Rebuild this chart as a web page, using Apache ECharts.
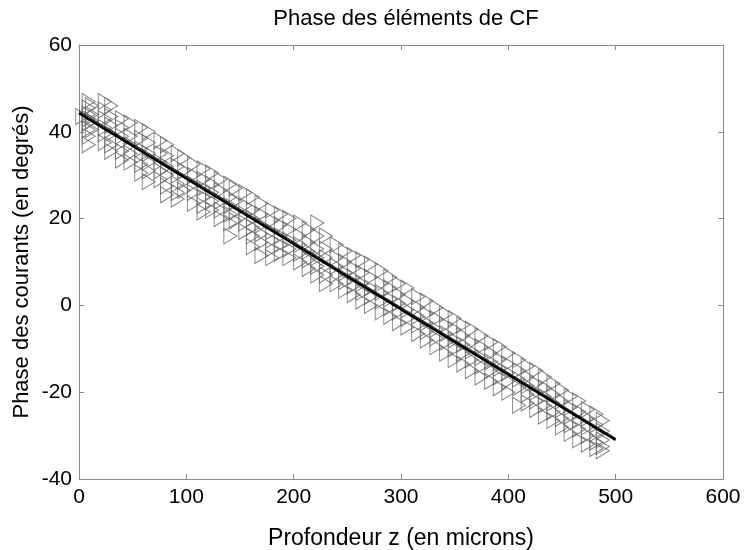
<!DOCTYPE html>
<html>
<head>
<meta charset="utf-8">
<script src="https://cdn.jsdelivr.net/npm/echarts@6/dist/echarts.min.js"></script>
<style>html,body{margin:0;padding:0;background:#fff}#c{width:746px;height:550px}</style>
</head>
<body>
<div id="c"></div>
<script>
var title = "Phase des éléments de CF";
var xName = "Profondeur z (en microns)";
var yName = "Phase des courants (en degrés)";
var xTicks = [0, 100, 200, 300, 400, 500, 600];
var yTicks = [-40, -20, 0, 20, 40, 60];

var depths = [3, 9, 12, 24, 30, 40, 48, 58, 65, 76, 82, 92, 98, 107, 116, 124, 132, 141, 146, 155, 162, 170, 180, 188, 196, 206, 214, 222, 230, 240, 248, 256, 264, 272, 282, 290, 298, 306, 316, 324, 333, 342, 350, 358, 366, 375, 384, 392, 400, 410, 418, 426, 434, 442, 450, 458, 466, 474, 482, 488];
var phases = [
  [43.5],
  [47, 45.5, 44, 43, 42, 40.5, 39, 37],
  [46, 44, 42.5, 40.5],
  [47, 45, 43, 41, 39.5, 37.5],
  [46, 43.5, 41.5, 39.5, 37, 35.5],
  [43, 41, 39, 37.5, 35.5, 33.5],
  [42, 39, 37, 35, 33],
  [41, 38.5, 36, 34.5, 32.5, 30.5],
  [40, 37.5, 35, 33, 31, 28.5],
  [38, 35, 33, 31, 29],
  [37, 34.5, 32, 30, 27.5, 25.5],
  [35, 32, 30, 28, 26, 24.5],
  [34, 31, 28.5, 26.5],
  [32.5, 30, 28, 26, 23.5],
  [31.5, 29, 27, 25, 23, 21.5],
  [30.5, 28, 26, 24, 22],
  [29, 26.5, 24, 22, 20],
  [28, 25, 23, 21, 19, 16],
  [27, 24, 21.5, 19.5],
  [26, 23, 21, 19, 17],
  [25, 22, 20, 18, 16, 13.5],
  [23.5, 21, 18.5, 16.5, 14.5, 11.5],
  [22, 19.5, 17, 15, 13, 11],
  [21, 18.5, 16, 14, 12],
  [20, 17.5, 15, 13, 11],
  [19, 16, 14, 12, 10],
  [17.5, 14.5, 12.5, 10.5, 8.5],
  [19, 16, 13, 11, 9, 7],
  [16, 13, 11, 9, 7, 5],
  [14, 11, 9, 7, 5],
  [12.5, 10, 7.5, 5.5, 3.5],
  [11.5, 8.5, 6.5, 4.5, 2.5],
  [10.5, 7.5, 5, 3, 1],
  [9.5, 6.5, 4, 2, 0],
  [8, 5, 3, 1, -1.5],
  [6.5, 4, 1.5, -0.5, -2.5],
  [5, 2.5, 0.5, -1.5, -4],
  [4, 1, -1, -3, -5],
  [2, -0.5, -2.5, -4.5, -6.5],
  [1, -2, -4, -6, -8],
  [-0.5, -3, -5.5, -7.5, -9.5],
  [-2, -4.5, -6.5, -8.5, -11],
  [-3, -5.5, -8, -10, -12.5],
  [-4.5, -7, -9, -11, -13.5],
  [-5.5, -8.5, -10.5, -12.5, -15],
  [-7, -9.5, -12, -14, -16.5],
  [-8.5, -11, -13, -15, -17.5],
  [-9.5, -12.5, -14.5, -16.5, -19],
  [-11, -13.5, -15.5, -17.5, -20],
  [-12.5, -15, -17, -19, -23],
  [-14, -16.5, -18.5, -20.5, -22.5],
  [-15, -18, -20, -22, -24],
  [-16.5, -19, -21, -23, -25.5],
  [-18, -20.5, -22.5, -24.5, -26.5],
  [-19.5, -22, -24, -26, -28],
  [-21, -23.5, -25.5, -27.5, -29.5],
  [-22, -24.5, -26.5, -28.5, -31],
  [-24, -26, -28, -30, -32],
  [-25, -27.5, -29.5, -31.5, -33],
  [-26.5, -29, -31, -32.5, -33.5]
];
var fitX = [0, 500];
var fitY1 = [44.3, -31];
var fitY2 = [44.8, -30.6];

var points = [];
depths.forEach(function (d, i) {
  phases[i].forEach(function (p) { points.push([d, p]); });
});

var font = "Liberation Sans, Arial, Helvetica, sans-serif";
var axisCol = '#8a8a8a';
var chart = echarts.init(document.getElementById('c'), null, {renderer: 'canvas'});
var baseX = {
  type: 'value', min: xTicks[0], max: xTicks[xTicks.length - 1], interval: 100,
  axisLine: {show: true, onZero: false, lineStyle: {color: axisCol, width: 1}},
  axisTick: {show: true, inside: true, length: 5, lineStyle: {color: axisCol}},
  splitLine: {show: false}
};
var baseY = {
  type: 'value', min: yTicks[0], max: yTicks[yTicks.length - 1], interval: 20,
  axisLine: {show: true, onZero: false, lineStyle: {color: axisCol, width: 1}},
  axisTick: {show: true, inside: true, length: 5, lineStyle: {color: axisCol}},
  splitLine: {show: false}
};
chart.setOption({
  animation: false,
  backgroundColor: '#fff',
  title: {
    text: title, left: 401, top: 3, textAlign: 'center',
    textStyle: {fontFamily: font, fontSize: 22, fontWeight: 'normal', color: '#000'}
  },
  grid: {left: 79, right: 23, top: 45, bottom: 71, containLabel: false, outerBoundsMode: 'none'},
  xAxis: [
    Object.assign({}, baseX, {
      position: 'bottom',
      name: xName, nameLocation: 'middle', nameGap: 48, nameMoveOverlap: false,
      nameTextStyle: {fontFamily: font, fontSize: 23, color: '#000'},
      axisLabel: {show: true, margin: 8, fontFamily: font, fontSize: 21, color: '#000'}
    }),
    Object.assign({}, baseX, {position: 'top', axisLabel: {show: false}})
  ],
  yAxis: [
    Object.assign({}, baseY, {
      position: 'left',
      name: yName, nameLocation: 'middle', nameGap: 46, nameMoveOverlap: false,
      nameTextStyle: {fontFamily: font, fontSize: 22, color: '#000'},
      axisLabel: {show: true, margin: 7, fontFamily: font, fontSize: 21, color: '#000'}
    }),
    Object.assign({}, baseY, {position: 'right', axisLabel: {show: false}})
  ],
  series: [
    {
      type: 'scatter', data: points,
      symbol: 'path://M0,0 L10,5 L0,10 Z', symbolSize: [13, 16],
      itemStyle: {color: 'rgba(0,0,0,0)', borderColor: '#666', borderWidth: 1},
      z: 2
    },
    {
      type: 'line', data: fitX.map(function (x, i) { return [x, fitY1[i]]; }),
      symbol: 'none', lineStyle: {color: '#000', width: 2.5}, z: 3
    },
    {
      type: 'line', data: fitX.map(function (x, i) { return [x, fitY2[i]]; }),
      symbol: 'none', lineStyle: {color: '#222', width: 1}, z: 3
    }
  ]
});
</script>
</body>
</html>
